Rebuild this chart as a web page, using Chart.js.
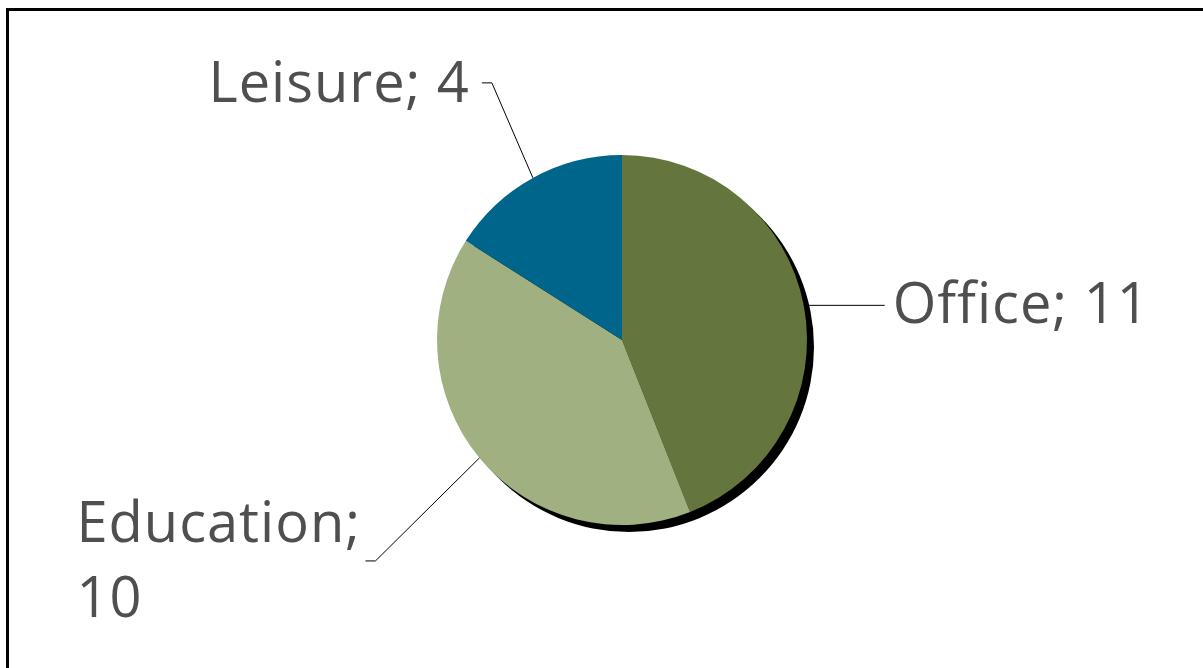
<!DOCTYPE html>
<html lang="en">
<head>
<meta charset="UTF-8">
<script src="https://cdn.jsdelivr.net/npm/chart.js"></script>
<title>Buildings by use</title>
<style>
    html, body { margin: 0; padding: 0; background: #fff; overflow: hidden; }
    #wrap { position: absolute; left: 0; top: 0; width: 1203px; height: 668px; }
    #frame { position: absolute; left: 6px; top: 8px; width: 1400px; height: 900px;
             border: 3px solid #000; pointer-events: none; }
</style>
</head>
<body>
<div id="wrap">
    <canvas id="pie" width="1203" height="668"></canvas>
</div>
<div id="frame"></div>

<script>
    // chart data
    const categories = ['Office', 'Education', 'Leisure'];
    const counts = [11, 10, 4];
    const sliceColors = ['#64763e', '#a1b080', '#00658a'];

    // label placement relative to the slice's outer midpoint
    // elbow = where the leader line bends, end = where it stops, text = first baseline
    const labelLayout = [
        { elbow: [81, 0], end: [81, 0], text: [89, 18], align: 'left', lines: ['Office; 11'] },
        { elbow: [-104, 103], end: [-114, 103], text: [-403, 84], align: 'left', lines: ['Education;', '10'] },
        { elbow: [-41, -95], end: [-51, -95], text: [-63, -76], align: 'right', lines: ['Leisure; 4'] }
    ];

    const pieShadow = {
        id: 'pieShadow',
        beforeDatasetsDraw(chart) {
            const arc = chart.getDatasetMeta(0).data[0];
            if (!arc) return;
            const ctx = chart.ctx;
            ctx.save();
            ctx.fillStyle = '#000';
            ctx.filter = 'blur(0.6px)';
            ctx.beginPath();
            ctx.arc(arc.x + 7, arc.y + 7, arc.outerRadius, 0, Math.PI * 2);
            ctx.fill();
            ctx.restore();
        }
    };

    const leaderLabels = {
        id: 'leaderLabels',
        afterDatasetsDraw(chart) {
            const ctx = chart.ctx;
            const meta = chart.getDatasetMeta(0);
            ctx.save();
            meta.data.forEach((arc, i) => {
                const mid = (arc.startAngle + arc.endAngle) / 2;
                const ax = arc.x + Math.cos(mid) * arc.outerRadius;
                const ay = arc.y + Math.sin(mid) * arc.outerRadius;
                const lay = labelLayout[i];

                ctx.strokeStyle = '#000';
                ctx.lineWidth = 1;
                ctx.beginPath();
                ctx.moveTo(ax, ay);
                ctx.lineTo(ax + lay.elbow[0], ay + lay.elbow[1]);
                ctx.lineTo(ax + lay.end[0], ay + lay.end[1]);
                ctx.stroke();

                ctx.fillStyle = '#4f4f4f';
                ctx.font = '56px "Open Sans"';
                ctx.letterSpacing = '1px';
                ctx.textAlign = lay.align;
                ctx.textBaseline = 'alphabetic';
                lay.lines.forEach((line, k) => {
                    ctx.fillText(line, ax + lay.text[0], ay + lay.text[1] + k * 75);
                });
            });
            ctx.restore();
        }
    };

    new Chart(document.getElementById('pie'), {
        type: 'pie',
        data: {
            labels: categories,
            datasets: [{
                data: counts,
                backgroundColor: sliceColors,
                borderWidth: 0
            }]
        },
        options: {
            responsive: false,
            animation: false,
            layout: { padding: { left: 437, right: 396, top: 155, bottom: 143 } },
            plugins: {
                legend: { display: false },
                tooltip: { enabled: false }
            }
        },
        plugins: [pieShadow, leaderLabels]
    });
</script>
</body>
</html>
